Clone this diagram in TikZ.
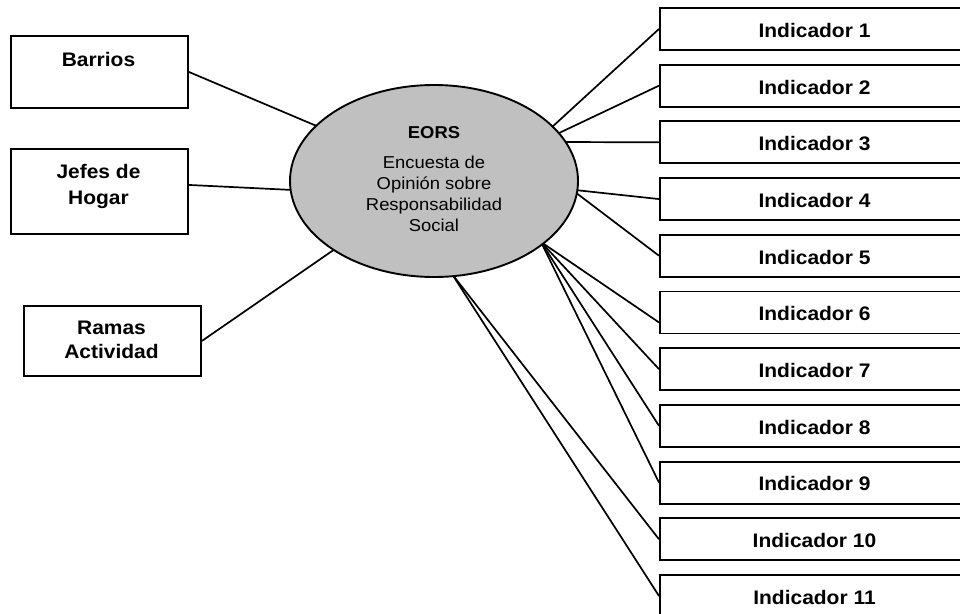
\documentclass[tikz,border=0pt]{standalone}
\usepackage{fontspec}
\setmainfont{Liberation Sans}
\newfontfamily\lblfont[FakeStretch=1.07]{Liberation Sans}
\usetikzlibrary{shapes.geometric}
\definecolor{ellgray}{RGB}{192,192,192}
\pgfdeclarelayer{background}
\pgfsetlayers{background,main}

\begin{document}
\begin{tikzpicture}[x=1pt,y=-1pt,
  conn/.style={line width=1.7pt, draw=black},
  lbox/.style={draw=black, line width=1.9pt, fill=white, rectangle, inner sep=0pt, anchor=north west},
  ibox/.style={lbox, minimum width=311pt, minimum height=42pt},
  blabel/.style={font=\lblfont\bfseries\fontsize{19.6}{24}\selectfont, anchor=base, inner sep=0pt},
  elabel/.style={font=\lblfont\fontsize{17.2}{21}\selectfont, anchor=base, inner sep=0pt},
  ebold/.style={font=\lblfont\bfseries\fontsize{17.2}{21}\selectfont, anchor=base, inner sep=0pt},
]
\useasboundingbox (0,0) rectangle (960,613);
\clip (0,0) rectangle (960,613);

% left boxes
\node[lbox, minimum width=177pt, minimum height=72pt] (barrios) at (10,35) {};
\node[lbox, minimum width=177pt, minimum height=85pt] (jefes) at (10,148) {};
\node[lbox, minimum width=177pt, minimum height=70pt] (ramas) at (23,305) {};
\node[blabel] (tbarrios) at (98.5,66) {Barrios};
\node[blabel] (tjefes1) at (98.5,178.5) {Jefes de};
\node[blabel] (tjefes2) at (98.5,204.5) {Hogar};
\node[blabel] (tramas1) at (111.5,334.5) {Ramas};
\node[blabel] (tramas2) at (111.5,358.5) {Actividad};

% right boxes
\foreach \i in {1,...,11}{
  \pgfmathsetmacro{\top}{7+56.7*(\i-1)}
  \node[ibox] (i\i) at (659,\top) {};
  \node[blabel] (ti\i) at (814.5,\top+30.3) {Indicador \i};
}

% ellipse
\node[ellipse, draw=black, line width=1.9pt, fill=ellgray, minimum width=288pt, minimum height=192pt, inner sep=0pt] (eors) at (434,181) {};
\node[ebold] (teors) at (434,138.3) {EORS};
\node[elabel] (te1) at (434,168.3) {Encuesta de};
\node[elabel] (te2) at (434,189.3) {Opinión sobre};
\node[elabel] (te3) at (434,210.3) {Responsabilidad};
\node[elabel] (te4) at (434,231.3) {Social};

% points on the ellipse border
\coordinate (eB) at (319,127);
\coordinate (eJ) at (293,190);
\coordinate (eR) at (335,249);
\coordinate (e1) at (551,128);
\coordinate (e2) at (557,134);
\coordinate (e3) at (564,142);
\coordinate (e4) at (575,190);
\coordinate (e5) at (575,192);
\coordinate (eF) at (541,242);
\coordinate (eL) at (452,274);

\begin{pgfonlayer}{background}
\draw[conn] (barrios.east) -- (eB);
\draw[conn] ([yshift=6.5pt]jefes.east) -- (eJ);
\draw[conn] (ramas.east) -- (eR);
\draw[conn] (e1) -- (i1.west);
\draw[conn] (e2) -- (i2.west);
\draw[conn] (e3) -- (i3.west);
\draw[conn] (e4) -- (i4.west);
\draw[conn] (e5) -- (i5.west);
\draw[conn] (eF) -- ([yshift=-10pt]i6.west);
\draw[conn] (eF) -- (i7.west);
\draw[conn] (eF) -- (i8.west);
\draw[conn] (eF) -- (i9.west);
\draw[conn] (eL) -- (i10.west);
\draw[conn] (eL) -- (i11.west);
\end{pgfonlayer}
\end{tikzpicture}
\end{document}
